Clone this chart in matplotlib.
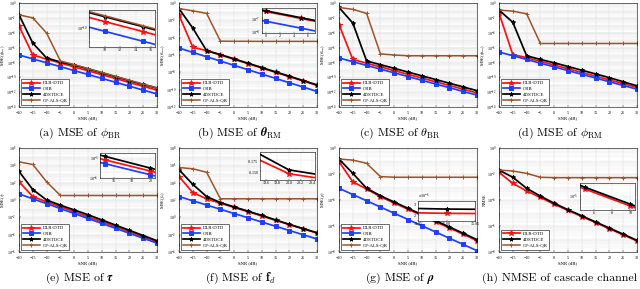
import numpy as np
import matplotlib
matplotlib.use("Agg")
import matplotlib.pyplot as plt
from matplotlib.ticker import LogLocator, NullFormatter, FixedLocator, ScalarFormatter

plt.rcParams['font.family'] = ['Liberation Serif', 'DejaVu Serif']
plt.rcParams['mathtext.fontset'] = 'stix'
plt.rcParams['axes.linewidth'] = 0.4
plt.rcParams['xtick.direction'] = 'in'
plt.rcParams['ytick.direction'] = 'in'
plt.rcParams['xtick.major.size'] = 1.5
plt.rcParams['ytick.major.size'] = 1.5
plt.rcParams['xtick.minor.size'] = 0.8
plt.rcParams['ytick.minor.size'] = 0.8
plt.rcParams['xtick.major.width'] = 0.3
plt.rcParams['ytick.major.width'] = 0.3
plt.rcParams['ytick.minor.width'] = 0.2
plt.rcParams['xtick.major.pad'] = 3.0
plt.rcParams['ytick.major.pad'] = 2.0

snr = [-20, -15, -10, -5, 0, 5, 10, 15, 20, 25, 30]

# all series are log10 of the MSE values
# (a) phi_BR
a_dlr = [-3.1, -7.0, -7.55, -8.07, -8.6, -9.12, -9.65, -10.17, -10.7, -11.22, -11.72]
a_crb = [-7.0, -7.52, -8.05, -8.57, -9.1, -9.62, -10.15, -10.67, -11.2, -11.72, -12.25]
a_4d = [-1.6, -5.4, -7.4, -7.95, -8.35, -8.87, -9.4, -9.92, -10.45, -10.97, -11.45]
a_cp = [-1.6, -2.0, -4.05, -7.8, -8.3, -8.82, -9.35, -9.87, -10.4, -10.92, -11.42]
# (b) theta_RM
b_dlr = [-1.4, -5.1, -5.5, -6.0, -6.5, -7.0, -7.5, -8.0, -8.5, -9.0, -9.5]
b_crb = [-5.2, -5.7, -6.2, -6.7, -7.2, -7.7, -8.2, -8.7, -9.2, -9.7, -10.2]
b_4d = [-0.65, -2.9, -5.5, -5.95, -6.45, -6.95, -7.45, -7.95, -8.45, -8.95, -9.45]
b_cp = [-0.65, -0.9, -1.2, -4.4, -4.42, -4.42, -4.43, -4.43, -4.43, -4.43, -4.43]
# (c) theta_BR
c_dlr = [-2.9, -7.6, -8.1, -8.6, -9.1, -9.6, -10.1, -10.6, -11.1, -11.6, -12.1]
c_crb = [-7.4, -7.9, -8.4, -8.9, -9.4, -9.9, -10.4, -10.9, -11.4, -11.9, -12.4]
c_4d = [-0.6, -2.7, -7.8, -8.3, -8.8, -9.3, -9.8, -10.3, -10.8, -11.3, -11.8]
c_cp = [-0.6, -0.85, -1.4, -6.85, -7.0, -7.1, -7.1, -7.1, -7.1, -7.1, -7.1]
# (d) phi_RM
d_dlr = [-1.35, -6.95, -7.35, -7.85, -8.35, -8.85, -9.35, -9.85, -10.35, -10.85, -11.35]
d_crb = [-6.6, -7.1, -7.6, -8.1, -8.6, -9.1, -9.6, -10.1, -10.6, -11.1, -11.6]
d_4d = [-0.95, -2.6, -7.1, -7.6, -8.05, -8.55, -9.05, -9.55, -10.05, -10.6, -11.15]
d_cp = [-0.95, -1.1, -1.45, -5.45, -5.45, -5.45, -5.45, -5.45, -5.45, -5.45, -5.45]
# (e) tau
e_dlr = [2.1, 0.4, -0.2, -0.78, -1.35, -1.93, -2.5, -3.08, -3.65, -4.23, -4.8]
e_crb = [0.7, 0.14, -0.42, -0.99, -1.56, -2.13, -2.7, -3.27, -3.84, -4.41, -4.98]
e_4d = [3.3, 1.2, 0.0, -0.6, -1.15, -1.7, -2.3, -2.9, -3.5, -4.1, -4.7]
e_cp = [4.4, 4.1, 2.1, 0.52, 0.52, 0.52, 0.52, 0.52, 0.52, 0.52, 0.52]
# (f) f_d
f_dlr = [4.7, 2.86, 2.14, 1.63, 1.14, 0.65, 0.16, -0.35, -0.84, -1.33, -1.82]
f_crb = [2.4, 1.91, 1.42, 0.93, 0.44, -0.05, -0.54, -1.03, -1.52, -2.01, -2.5]
f_4d = [5.5, 3.8, 2.4, 1.7, 1.2, 0.71, 0.22, -0.3, -0.815, -1.3, -1.78]
f_cp = [5.75, 5.6, 5.2, 2.14, 2.14, 2.14, 2.14, 2.14, 2.14, 2.14, 2.14]
# (g) rho
g_dlr = [-1.05, -2.6, -3.15, -3.75, -4.23, -4.71, -5.19, -5.67, -6.15, -6.63, -7.13]
g_crb = [-3.1, -3.58, -4.06, -4.54, -5.02, -5.5, -5.98, -6.46, -6.94, -7.42, -7.9]
g_4d = [-0.85, -1.95, -3.1, -3.67, -4.16, -4.64, -5.12, -5.6, -6.08, -6.56, -7.05]
g_cp = [-0.85, -0.93, -1.18, -2.2, -2.25, -2.25, -2.25, -2.25, -2.25, -2.25, -2.25]
# (h) cascade channel NMSE
h_dlr = [-1.87, -2.72, -3.3, -3.8, -4.33, -4.8, -5.27, -5.74, -6.21, -6.68, -7.15]
h_4d = [-1.7, -2.25, -3.1, -3.7, -4.25, -4.75, -5.22, -5.69, -6.16, -6.63, -7.1]
h_cp = [-1.7, -1.77, -1.95, -2.25, -2.28, -2.28, -2.28, -2.28, -2.28, -2.28, -2.28]

names = ['DLR-DTD', 'CRB', '4DSTDCE', 'CP-ALS-QR']
styles = {
    'DLR-DTD': dict(color='#ff1010', marker='*', ms=3.8, lw=1.25),
    'CRB': dict(color='#1f3fff', marker='s', ms=2.2, lw=1.25),
    '4DSTDCE': dict(color='black', marker='*', ms=3.0, lw=1.25),
    'CP-ALS-QR': dict(color='#9a5428', marker='+', ms=2.6, lw=1.1),
}

captions = [
    r'(a) MSE of $\phi_{\mathrm{BR}}$',
    r'(b) MSE of $\boldsymbol{\theta}_{\mathrm{RM}}$',
    r'(c) MSE of $\theta_{\mathrm{BR}}$',
    r'(d) MSE of $\phi_{\mathrm{RM}}$',
    r'(e) MSE of $\boldsymbol{\tau}$',
    r'(f) MSE of $\mathbf{f}_d$',
    r'(g) MSE of $\boldsymbol{\rho}$',
    r'(h) NMSE of cascade channel',
]
ylabels = [r'MSE($\phi_{BR}$)', r'MSE($\theta_{RM}$)', r'MSE($\theta_{BR}$)', r'MSE($\phi_{RM}$)',
           r'MSE($\tau$)', r'MSE($f_d$)', r'MSE($\rho$)', 'NMSE']
curves = [
    dict(zip(names, [a_dlr, a_crb, a_4d, a_cp])),
    dict(zip(names, [b_dlr, b_crb, b_4d, b_cp])),
    dict(zip(names, [c_dlr, c_crb, c_4d, c_cp])),
    dict(zip(names, [d_dlr, d_crb, d_4d, d_cp])),
    dict(zip(names, [e_dlr, e_crb, e_4d, e_cp])),
    dict(zip(names, [f_dlr, f_crb, f_4d, f_cp])),
    dict(zip(names, [g_dlr, g_crb, g_4d, g_cp])),
    {'DLR-DTD': h_dlr, '4DSTDCE': h_4d, 'CP-ALS-QR': h_cp},
]
ylims = [(-14, 0), (-12, 0), (-14, 0), (-14, 0), (-6, 6), (-4, 8), (-8, 0), (-8, 0)]

# insets: panel index -> (box in panel px, xlim, xticks, log y, series used for y range, pad)
insets = {
    0: ((89, 10, 155, 47), (8, 16.5), [10, 12, 14, 16], True, ['DLR-DTD', 'CRB', '4DSTDCE'], 0.08),
    1: ((102, 8, 155, 33), (-0.5, 7), [0, 2, 4, 6], True, ['DLR-DTD', 'CRB', '4DSTDCE'], 0.1),
    4: ((100, 8, 155, 33), (14.5, 20.5), [16, 18, 20], True, ['DLR-DTD', 'CRB', '4DSTDCE'], 0.1),
    5: ((100, 7, 155, 35), (19.5, 20.45), [19.6, 19.8, 20, 20.2, 20.4], False, ['DLR-DTD', '4DSTDCE'], 0.1),
    6: ((98, 56, 155, 76), (14.95, 15.05), [14.95, 15, 15.05], False, ['DLR-DTD', '4DSTDCE'], 1.5),
    7: ((100, 38, 155, 65), (4.5, 10.5), [6, 8, 10], True, ['DLR-DTD', '4DSTDCE'], 0.1),
}

W, H = 640, 289
fig = plt.figure(figsize=(6.4, 2.89), dpi=100)


def draw_lines(ax, cv):
    for k, y in cv.items():
        st = styles[k]
        ax.plot(snr, 10.0 ** np.array(y), color=st['color'], marker=st['marker'],
                markersize=st['ms'], lw=st['lw'], mew=0.7, label=k)


for i in range(8):
    col, row = i % 4, i // 4
    top = 145 * row
    ax = fig.add_axes([(160 * col + 19) / W, 1 - (top + 107) / H, 138 / W, 104 / H])
    cv = curves[i]
    draw_lines(ax, cv)
    ax.set_yscale('log')
    lo, hi = ylims[i]
    ax.set_ylim(10.0 ** lo, 10.0 ** hi)
    ax.set_xlim(-20, 30)
    ax.set_xticks(snr)
    ax.yaxis.set_major_locator(FixedLocator([10.0 ** k for k in range(lo, hi + 1, 2)]))
    ax.yaxis.set_minor_locator(LogLocator(base=10, subs=np.arange(1, 10), numticks=100))
    ax.yaxis.set_minor_formatter(NullFormatter())
    ax.grid(True, which='major', color='0.82', lw=0.3)
    ax.grid(True, which='minor', axis='y', color='0.9', lw=0.25)
    ax.tick_params(labelsize=3.0)
    ax.set_xlabel('SNR (dB)', fontsize=3.4, labelpad=1.0)
    ax.set_ylabel(ylabels[i], fontsize=3.3)
    ax.yaxis.set_label_coords(-0.09, 0.5)
    ax.legend(loc='lower left', fontsize=3.5, handlelength=3.4, borderpad=0.35,
              labelspacing=0.3, handletextpad=0.6, fancybox=False, edgecolor='black',
              framealpha=1).get_frame().set_linewidth(0.4)
    fig.text((160 * col + 80) / W, 1 - (top + 133) / H, captions[i], ha='center', va='center',
             fontsize=8.6, family='cmr10', math_fontfamily='cm')

    if i in insets:
        (x0, y0, x1, y1), xl, xt, logy, keys, pad = insets[i]
        iax = fig.add_axes([(160 * col + x0) / W, 1 - (top + y1) / H, (x1 - x0) / W, (y1 - y0) / H])
        draw_lines(iax, cv)
        iax.set_xlim(*xl)
        iax.set_xticks(xt)
        vals = []
        for k in keys:
            if logy:
                vals += list(np.interp(xl, snr, cv[k]))
            else:
                vals += list(np.interp(xl, snr, 10.0 ** np.array(cv[k])))
        vmin, vmax = min(vals), max(vals)
        span = vmax - vmin
        if logy:
            iax.set_yscale('log')
            iax.set_ylim(10 ** (vmin - pad * span), 10 ** (vmax + pad * span))
            iax.yaxis.set_minor_formatter(NullFormatter())
        else:
            iax.set_ylim(vmin - pad * span, vmax + pad * span)
            fmt = ScalarFormatter(useMathText=True)
            fmt.set_powerlimits((-3, 3))
            iax.yaxis.set_major_formatter(fmt)
            iax.yaxis.get_offset_text().set_fontsize(3)
        iax.grid(True, which='both', color='0.85', lw=0.25)
        iax.tick_params(labelsize=3, length=1, pad=1)

fig.savefig('out.png', dpi=100)
